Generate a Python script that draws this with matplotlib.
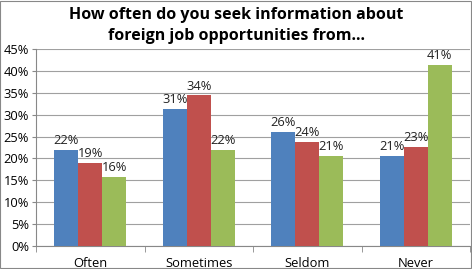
import matplotlib.pyplot as plt
import numpy as np

categories = ["Often", "Sometimes", "Seldom", "Never"]
blue = [21.9, 31.3, 26.1, 20.6]
red = [19.0, 34.4, 23.8, 22.7]
green = [15.8, 22.0, 20.6, 41.4]
yticks = np.arange(0, 46, 5)

plt.rcParams['font.family'] = ['Open Sans', 'DejaVu Sans']

fig = plt.figure(figsize=(4.72, 2.69), dpi=100)
ax = fig.add_axes([36/472, 23/269, 434/472, 197/269])

x = np.arange(len(categories))
w = 1/4.5
colors = ["#4F81BD", "#C0504D", "#9BBB59"]
for i, (vals, c) in enumerate(zip([blue, red, green], colors)):
    xs = x + (i - 1) * w
    ax.bar(xs, vals, w, color=c, zorder=3)
    for xx, v in zip(xs, vals):
        ax.text(xx, v + 0.6, "%d%%" % round(v), ha="center", va="bottom",
                fontsize=9.3, color="#222222", zorder=4)

ax.set_xlim(-0.5, 3.5)
ax.set_ylim(0, 45)
ax.set_yticks(yticks)
ax.set_yticklabels(["%d%%" % t for t in yticks], fontsize=9.3)
ax.set_xticks(x)
ax.set_xticklabels(categories, fontsize=9.3)
ax.tick_params(axis="x", length=0, pad=8)
ax.set_xticks(np.arange(-0.5, 4, 1), minor=True)
ax.tick_params(axis="x", which="minor", length=4, color="#888888")
ax.tick_params(axis="y", length=3, color="#888888", pad=2)
ax.grid(axis="y", color="#a0a0a0", linewidth=0.8, zorder=0)
for s in ["top", "right"]:
    ax.spines[s].set_visible(False)
ax.spines["left"].set_color("#888888")
ax.spines["bottom"].set_color("#888888")

fig.text(0.5, 0.975, "How often do you seek information about\nforeign job opportunities from...",
         ha="center", va="top", fontsize=11.5, fontweight="bold", linespacing=1.45)

fig.patches.append(plt.Rectangle((0.001, 0.002), 0.997, 0.995, transform=fig.transFigure,
                                 fill=False, edgecolor="#888888", linewidth=0.8))

fig.savefig("out.png", dpi=100)
